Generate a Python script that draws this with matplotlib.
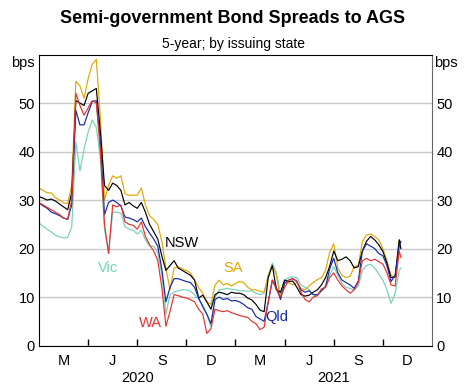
import matplotlib
matplotlib.use("Agg")
import matplotlib.pyplot as plt
import matplotlib.transforms as mtransforms
import numpy as np

plt.rcParams["font.family"] = ["Liberation Sans", "DejaVu Sans"]

# months since 1 Jan 2020 (roughly weekly readings)
months = list(np.arange(0, 22.25, 0.25)) + [22.1]

nsw = [30.7, 30.4, 30.0, 30.2, 29.8, 29.2, 28.6, 28.0,
       31.5, 50.5, 50.0, 49.5, 52.0, 52.5, 53.0, 44.0,
       33.0, 32.0, 33.5, 33.0, 32.0, 29.0, 29.5, 28.8,
       28.3, 29.5, 27.5, 25.0, 23.5, 22.0, 18.5, 15.5,
       16.5, 17.5, 16.0, 15.5, 15.0, 14.5, 13.5, 9.8,
       10.4, 9.0, 7.5, 10.5, 11.0, 10.8, 10.5, 11.0,
       10.8, 10.8, 10.5, 9.8, 9.4, 8.5, 7.3, 7.0,
       14.0, 16.5, 11.5, 11.0, 13.5, 13.2, 13.3, 12.0,
       10.5, 10.2, 10.4, 11.0, 11.5, 12.5, 14.0, 16.3,
       19.5, 17.5, 17.8, 18.3, 17.5, 16.0, 16.3, 19.5,
       21.5, 22.5, 21.8, 20.8, 19.4, 17.0, 14.0, 14.2,
       21.8, 20.0]
sa = [32.5, 32.0, 31.5, 31.5, 30.5, 30.0, 29.4, 29.3,
      33.0, 54.5, 53.5, 51.0, 55.0, 58.0, 59.0, 47.0,
      30.0, 33.0, 35.0, 34.5, 35.0, 31.3, 31.0, 31.0,
      31.0, 32.5, 29.0, 26.8, 26.0, 25.0, 21.5, 16.0,
      11.5, 16.0, 16.2, 15.8, 15.5, 15.0, 13.5, 12.0,
      10.8, 9.0, 8.5, 12.5, 13.5, 12.5, 12.8, 12.3,
      12.8, 13.2, 13.0, 12.0, 11.5, 11.5, 11.2, 11.0,
      14.5, 16.5, 14.5, 9.8, 12.9, 13.0, 12.5, 13.0,
      11.8, 11.5, 12.3, 13.0, 13.6, 14.0, 15.5, 19.2,
      21.0, 16.0, 14.5, 14.0, 14.3, 16.3, 16.5, 21.5,
      22.8, 23.0, 22.5, 21.8, 20.0, 17.5, 14.5, 14.0,
      21.8, 21.2]
qld = [29.4, 28.8, 28.3, 27.5, 27.2, 26.8, 26.3, 26.0,
       29.0, 48.5, 45.5, 45.5, 48.0, 50.3, 50.5, 42.0,
       27.0, 29.5, 30.0, 29.5, 28.8, 26.5, 26.3, 26.0,
       25.5, 26.3, 24.5, 23.2, 22.0, 20.5, 15.8, 9.0,
       12.0, 13.8, 13.8, 13.5, 13.2, 13.0, 12.0, 9.8,
       8.0, 6.5, 4.5, 9.5, 10.0, 9.5, 9.7, 9.2,
       9.3, 9.0, 8.5, 7.8, 7.5, 6.0, 5.5, 5.0,
       9.0, 13.5, 12.0, 9.5, 12.9, 13.5, 13.8, 13.2,
       11.5, 11.0, 11.3, 10.5, 10.5, 11.3, 12.1, 15.8,
       18.0, 15.0, 13.5, 13.0, 12.5, 11.8, 13.3, 19.5,
       21.0, 20.5, 20.0, 19.0, 18.5, 16.5, 13.2, 14.5,
       20.5, 21.5]
vic = [25.3, 24.6, 24.0, 23.4, 22.8, 22.4, 22.2, 22.3,
       24.5, 42.0, 36.0, 40.5, 44.0, 46.5, 45.0, 38.5,
       24.0, 19.0, 27.5, 27.5, 27.3, 24.5, 24.0, 23.8,
       23.0, 23.8, 21.8, 20.5, 20.5, 19.3, 14.5, 6.5,
       10.5, 11.0, 11.3, 11.5, 11.5, 11.2, 10.5, 9.5,
       8.4, 6.3, 4.0, 10.0, 11.5, 11.6, 11.8, 11.6,
       11.5, 11.3, 11.3, 11.2, 11.3, 10.8, 10.5, 10.8,
       14.5, 17.0, 15.0, 10.5, 13.5, 14.0, 14.2, 14.0,
       12.5, 12.0, 11.5, 10.5, 10.2, 11.3, 12.5, 14.5,
       16.3, 14.5, 12.8, 12.0, 11.8, 11.5, 12.3, 15.5,
       16.5, 16.8, 16.0, 14.8, 13.5, 11.5, 8.7, 10.8,
       15.5, 16.0]
wa = [29.5, 29.0, 28.5, 28.0, 27.5, 27.0, 26.3, 26.0,
      30.0, 52.0, 49.5, 47.5, 49.0, 50.5, 50.0, 40.0,
      25.0, 19.0, 29.0, 28.6, 29.0, 25.5, 25.0, 24.8,
      24.0, 25.5, 22.5, 20.8, 19.5, 17.6, 12.0, 4.0,
      7.0, 10.5, 10.3, 10.0, 9.8, 9.5, 9.0, 7.5,
      6.5, 2.5, 3.5, 7.5, 7.2, 7.0, 7.2, 6.8,
      6.5, 6.2, 6.0, 5.8, 5.0, 4.5, 3.3, 3.8,
      9.0, 13.5, 11.5, 10.0, 12.0, 13.5, 13.8, 13.3,
      11.0, 9.5, 9.0, 10.0, 10.3, 11.7, 12.0, 14.0,
      15.0, 13.5, 12.3, 11.5, 10.8, 11.5, 13.0, 17.5,
      18.0, 17.5, 17.8, 17.3, 16.8, 15.0, 12.5, 12.3,
      19.5, 18.2]

quarter_labels = ["M", "J", "S", "D", "M", "J", "S", "D"]
years = ["2020", "2021"]
y_ticks = [0, 10, 20, 30, 40, 50]

colours = {"Vic": "#72d3b7", "SA": "#e0a800", "NSW": "#000000",
           "Qld": "#1428a8", "WA": "#e8302c"}

fig = plt.figure(figsize=(4.66, 3.84), dpi=100)
ax = fig.add_axes([0.0837, 0.1, 0.8433, 0.758])

for name, vals in [("Vic", vic), ("SA", sa), ("NSW", nsw), ("Qld", qld), ("WA", wa)]:
    ax.plot(months, vals, color=colours[name], lw=0.85)

ax.set_xlim(0, 24)
ax.set_ylim(0, 60)

ax.set_yticks(y_ticks)
ax.set_yticklabels([str(t) for t in y_ticks])
ax.tick_params(axis="y", length=0, labelsize=10.5, labelleft=True, labelright=True, pad=3)
ax.yaxis.grid(True, color="#c8c8c8", lw=1.0)
ax.set_axisbelow(True)

ax.set_xticks(np.arange(3, 22, 3))
ax.set_xticklabels([])
ax.set_xticks(np.arange(1.5, 24, 3), minor=True)
ax.set_xticklabels(quarter_labels, minor=True)
ax.tick_params(axis="x", which="major", direction="in", length=5, width=1, color="black")
ax.tick_params(axis="x", which="minor", length=0, labelsize=10.5, pad=6)

for sp in ["left", "top", "bottom"]:
    ax.spines[sp].set_color("black")
ax.spines["right"].set_color("#666666")

trans = mtransforms.blended_transform_factory(ax.transData, ax.transAxes)
for i, yr in enumerate(years):
    ax.text(6 + 12 * i, -0.112, yr, transform=trans, ha="center", va="center", fontsize=10.5)

ax.text(-0.01, 0.97, "bps", transform=ax.transAxes, ha="right", va="center", fontsize=10.5)
ax.text(1.005, 0.97, "bps", transform=ax.transAxes, ha="left", va="center", fontsize=10.5)

ax.text(7.68, 21.1, "NSW", color=colours["NSW"], fontsize=10.5, ha="left", va="center")
ax.text(4.2, 16.0, "Vic", color=colours["Vic"], fontsize=10.5, ha="center", va="center")
ax.text(11.83, 16.0, "SA", color=colours["SA"], fontsize=10.5, ha="center", va="center")
ax.text(6.83, 4.65, "WA", color=colours["WA"], fontsize=10.5, ha="center", va="center")
ax.text(14.5, 5.9, "Qld", color=colours["Qld"], fontsize=10.5, ha="center", va="center")

fig.text(0.5, 0.952, "Semi-government Bond Spreads to AGS", ha="center", va="center",
         fontsize=13, fontweight="bold")
fig.text(0.5, 0.885, "5-year; by issuing state", ha="center", va="center", fontsize=10)

fig.savefig("out.png", dpi=100)
